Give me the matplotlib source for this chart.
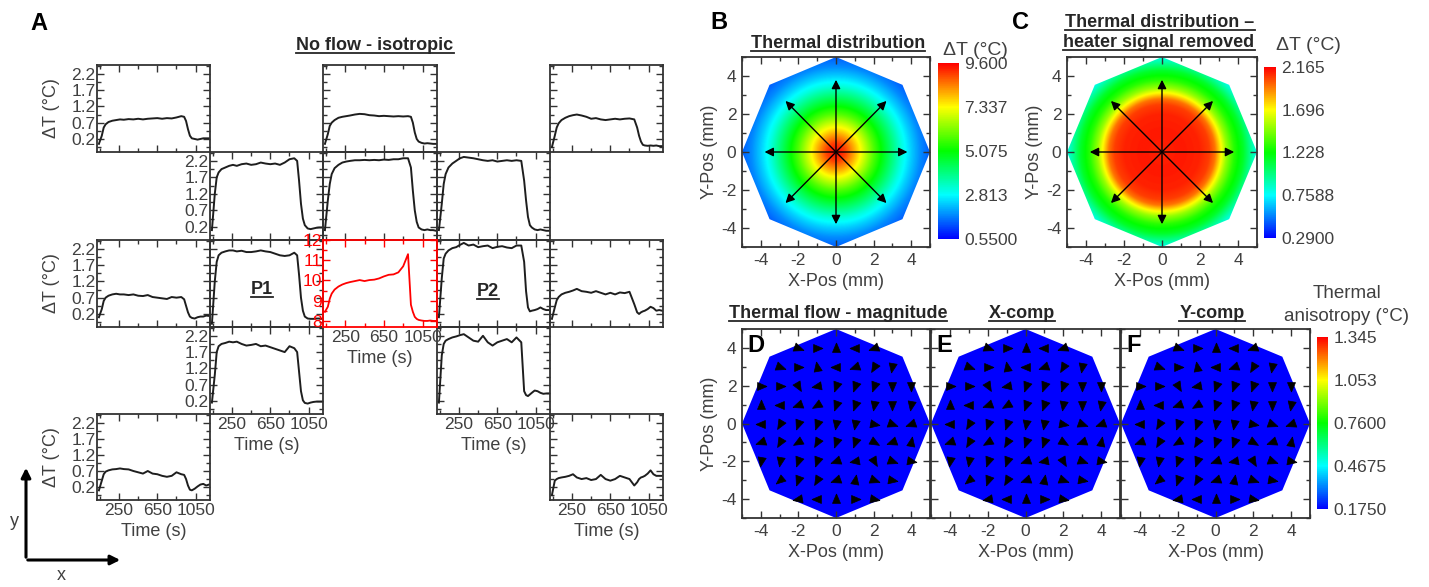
import numpy as np
import matplotlib.pyplot as plt
from matplotlib.colors import LinearSegmentedColormap, Normalize
from matplotlib.cm import ScalarMappable
from matplotlib.patches import Polygon, FancyArrowPatch
from matplotlib.ticker import FixedLocator, AutoMinorLocator
from matplotlib.lines import Line2D

plt.rcParams['font.family'] = ['Liberation Sans', 'DejaVu Sans']
plt.rcParams['axes.unicode_minus'] = False

GREY = '#404040'
DARK = '#262626'
W, H = 1429, 587

## ---- panel A: dT (deg C) at each sensor vs time (s)
time_s = [40, 70, 90, 110, 140, 180, 220, 260, 300, 350, 400, 450, 500, 550,
          600, 650, 700, 750, 800, 850, 900, 930, 950, 970, 990, 1010, 1040,
          1070, 1100, 1130, 1160, 1190]

dT_top_left = [0.05, 0.30, 0.55, 0.65, 0.72, 0.76, 0.78, 0.80, 0.79, 0.81, 0.80, 0.82, 0.80, 0.82, 0.83, 0.84,
               0.82, 0.84, 0.83, 0.86, 0.90, 0.88, 0.75, 0.50, 0.30, 0.22, 0.20, 0.18, 0.20, 0.22, 0.22, 0.22]
dT_top_mid = [0.05, 0.35, 0.60, 0.70, 0.78, 0.85, 0.88, 0.90, 0.92, 0.95, 0.97, 0.96, 0.93, 0.92, 0.90, 0.91,
              0.90, 0.89, 0.90, 0.89, 0.90, 0.88, 0.70, 0.40, 0.20, 0.12, 0.08, 0.06, 0.07, 0.06, 0.05, 0.05]
dT_top_right = [-0.05, 0.30, 0.55, 0.68, 0.78, 0.85, 0.90, 0.93, 0.95, 0.92, 0.88, 0.82, 0.84, 0.80, 0.78, 0.80,
                0.82, 0.80, 0.82, 0.83, 0.80, 0.55, 0.30, 0.12, 0.02, 0.00, -0.01, 0.00, -0.01, 0.00, -0.02, -0.02]
dT_in_tl = [0.10, 1.20, 1.70, 1.85, 1.95, 2.00, 2.05, 2.08, 2.05, 2.10, 2.12, 2.08, 2.10, 2.15, 2.12, 2.10,
            2.12, 2.08, 2.15, 2.25, 2.28, 2.20, 1.60, 0.90, 0.45, 0.25, 0.15, 0.13, 0.15, 0.17, 0.18, 0.18]
dT_in_tm = [0.10, 1.00, 1.50, 1.80, 1.98, 2.08, 2.15, 2.18, 2.20, 2.22, 2.22, 2.23, 2.22, 2.23, 2.22, 2.24,
            2.23, 2.25, 2.25, 2.28, 2.28, 2.00, 1.30, 0.70, 0.35, 0.18, 0.12, 0.10, 0.12, 0.10, 0.10, 0.08]
dT_in_tr = [0.10, 0.90, 1.50, 1.80, 2.00, 2.12, 2.20, 2.28, 2.32, 2.30, 2.28, 2.25, 2.22, 2.20, 2.22, 2.18,
            2.20, 2.22, 2.20, 2.22, 2.20, 1.60, 1.00, 0.50, 0.25, 0.18, 0.12, 0.10, 0.12, 0.10, 0.08, 0.08]
dT_mid_left = [0.10, 0.35, 0.60, 0.70, 0.76, 0.80, 0.82, 0.80, 0.80, 0.78, 0.80, 0.76, 0.75, 0.78, 0.72, 0.70,
               0.68, 0.66, 0.72, 0.70, 0.72, 0.65, 0.45, 0.25, 0.12, 0.08, 0.06, 0.10, 0.12, 0.12, 0.15, 0.14]
dT_p1 = [-0.10, 1.20, 1.80, 2.00, 2.08, 2.12, 2.15, 2.15, 2.12, 2.14, 2.10, 2.10, 2.12, 2.15, 2.12, 2.10,
         2.05, 2.00, 1.98, 2.00, 2.08, 2.00, 1.40, 0.70, 0.30, 0.12, 0.06, 0.05, 0.05, 0.06, 0.06, 0.05]
heater_T = [8.45, 8.70, 9.10, 9.35, 9.55, 9.70, 9.80, 9.87, 9.92, 9.97, 10.02, 9.97, 10.02, 10.04, 10.10, 10.20,
            10.28, 10.30, 10.40, 10.70, 11.30, 8.80, 8.45, 8.20, 8.10, 8.05, 8.02, 8.00, 8.00, 8.02, 8.00, 8.00]
dT_p2 = [0.10, 1.30, 1.90, 2.05, 2.15, 2.22, 2.25, 2.32, 2.38, 2.30, 2.33, 2.25, 2.28, 2.30, 2.22, 2.26,
         2.28, 2.24, 2.22, 2.30, 2.30, 1.80, 0.90, 0.40, 0.28, 0.30, 0.32, 0.35, 0.40, 0.35, 0.32, 0.32]
dT_mid_right = [0.05, 0.40, 0.62, 0.72, 0.80, 0.85, 0.88, 0.92, 0.97, 0.90, 0.88, 0.85, 0.90, 0.85, 0.80, 0.85,
                0.80, 0.86, 0.84, 0.88, 0.50, 0.25, 0.20, 0.25, 0.28, 0.30, 0.35, 0.42, 0.38, 0.30, 0.32, 0.30]
dT_in_bl = [0.15, 1.00, 1.70, 1.88, 1.95, 1.98, 2.02, 2.00, 2.02, 1.95, 1.90, 1.92, 1.95, 1.88, 1.90, 1.85,
            1.80, 1.75, 1.70, 1.88, 1.82, 1.70, 1.10, 0.50, 0.22, 0.14, 0.12, 0.15, 0.17, 0.18, 0.18, 0.18]
dT_in_br = [0.15, 1.60, 1.95, 2.05, 2.10, 2.15, 2.18, 2.22, 2.25, 2.15, 2.05, 2.02, 2.20, 2.00, 1.90, 2.00,
            2.05, 2.10, 2.00, 2.15, 2.00, 0.50, 0.38, 0.35, 0.40, 0.45, 0.52, 0.50, 0.45, 0.42, 0.43, 0.43]
dT_bot_left = [0.10, 0.40, 0.60, 0.68, 0.72, 0.75, 0.76, 0.78, 0.76, 0.75, 0.70, 0.66, 0.62, 0.70, 0.62, 0.60,
               0.55, 0.52, 0.55, 0.66, 0.60, 0.58, 0.45, 0.25, 0.12, 0.10, 0.15, 0.22, 0.28, 0.30, 0.25, 0.28]
dT_bot_right = [-0.05, 0.40, 0.45, 0.48, 0.50, 0.52, 0.55, 0.60, 0.50, 0.45, 0.48, 0.42, 0.45, 0.58, 0.45, 0.40,
                0.45, 0.55, 0.50, 0.45, 0.25, 0.35, 0.45, 0.50, 0.52, 0.55, 0.62, 0.72, 0.60, 0.55, 0.55, 0.55]

dT_ticks = [0.2, 0.7, 1.2, 1.7, 2.2]
heater_ticks = [8, 9, 10, 11, 12]
time_ticks = [250, 650, 1050]
time_minor = [50, 450, 850]

## ---- panels B, C: radial temperature profiles (mm, deg C)
b_radius = [0, 0.5, 1, 1.5, 2, 2.5, 3, 3.5, 4, 4.5, 5]
b_dT = [9.6, 9.0, 8.0, 6.9, 5.8, 4.9, 4.0, 3.1, 2.4, 1.8, 1.4]
c_radius = [0, 1, 2, 2.5, 2.8, 3.1, 3.4, 3.8, 4.3, 4.8, 5]
c_dT = [2.10, 2.12, 2.10, 2.05, 1.95, 1.72, 1.50, 1.30, 1.15, 0.90, 0.80]
b_cbar = [0.55, 2.813, 5.075, 7.337, 9.6]
c_cbar = [0.29, 0.7588, 1.228, 1.696, 2.165]
arrow_angles = [0, 45, 90, 135, 180, 225, 270, 315]
arrow_len = 3.8

## ---- panels D, E, F: anisotropy level and flow direction (deg) on a 1 mm grid
aniso_cbar = [0.175, 0.4675, 0.76, 1.053, 1.345]
flow_level = 0.175
grid_x = [-4, -3, -2, -1, 0, 1, 2, 3, 4]
grid_y = [4, 3, 2, 1, 0, -1, -2, -3, -4]
flow_angle = [
    [None, None, -20, 0, 90, 180, 200, None, None],
    [None, -20, 0, 100, 180, 200, 240, 260, None],
    [0, 0, -60, 190, 250, 250, 250, 270, 270],
    [90, 180, 200, 210, 250, 250, 260, 270, 260],
    [180, 240, 250, 250, 260, 260, -10, -20, 200],
    [200, 240, 210, 240, 250, 250, -30, 200, 80],
    [260, 260, 250, 250, 200, 190, -60, -20, -10],
    [None, 220, 250, 240, 200, 80, -20, -10, None],
    [None, None, 190, 180, 90, 0, -10, None, None],
]


def rect(x0, y0, x1, y1):
    return [x0 / W, 1 - y1 / H, (x1 - x0) / W, (y1 - y0) / H]


def fx(x):
    return x / W


def fy(y):
    return 1 - y / H


fig = plt.figure(figsize=(W / 100, H / 100), dpi=100)
underlined = []


def utext(x, y, s, size=13):
    t = fig.text(fx(x), fy(y), s, ha='center', va='baseline', fontsize=size,
                 fontweight='bold', color=DARK)
    underlined.append(t)
    return t


## ---------------- panel A
col_x = [97, 210, 323, 437, 550, 663]
row_y = [65, 152, 240, 327, 414, 500]

cells = [
    (0, 0, dT_top_left), (0, 2, dT_top_mid), (0, 4, dT_top_right),
    (1, 1, dT_in_tl), (1, 2, dT_in_tm), (1, 3, dT_in_tr),
    (2, 0, dT_mid_left), (2, 1, dT_p1), (2, 3, dT_p2), (2, 4, dT_mid_right),
    (3, 1, dT_in_bl), (3, 3, dT_in_br),
    (4, 0, dT_bot_left), (4, 4, dT_bot_right),
    (2, 2, heater_T),
]
ytl_cells = {(0, 0), (1, 1), (2, 0), (3, 1), (4, 0), (2, 2)}
xtl_cells = {(2, 2), (3, 1), (3, 3), (4, 0), (4, 4)}
ylab_cells = {(0, 0), (2, 0), (4, 0)}

for r, c, vals in cells:
    heater = (r, c) == (2, 2)
    ax = fig.add_axes(rect(col_x[c], row_y[r], col_x[c + 1], row_y[r + 1]))
    ax.set_facecolor('none')
    ax.set_zorder(3 if heater else 2)
    col = '#ff0000' if heater else '#1e1e1e'
    ax.plot(time_s, vals, color=col, lw=1.3 if heater else 1.4)
    ax.set_xlim(20, 1200)
    if heater:
        ax.set_ylim(7.7, 12.0)
        ax.yaxis.set_major_locator(FixedLocator(heater_ticks))
    else:
        ax.set_ylim(-0.2, 2.47)
        ax.yaxis.set_major_locator(FixedLocator(dT_ticks))
    ax.yaxis.set_minor_locator(AutoMinorLocator(2))
    ax.xaxis.set_major_locator(FixedLocator(time_ticks))
    ax.xaxis.set_minor_locator(FixedLocator(time_minor))
    spc = '#ff0000' if heater else '#333333'
    for s in ax.spines.values():
        s.set_color(spc)
        s.set_linewidth(1.3)
    ax.tick_params(which='both', direction='in', top=True, right=True, color=spc,
                   width=1, labelsize=12.5, pad=2)
    ax.tick_params(which='major', length=5)
    ax.tick_params(which='minor', length=3)
    ax.tick_params(axis='x', labelcolor=GREY, labelbottom=(r, c) in xtl_cells)
    ax.tick_params(axis='y', labelcolor='#ff0000' if heater else GREY,
                   labelleft=(r, c) in ytl_cells, pad=1)
    if (r, c) in xtl_cells:
        ax.set_xlabel('Time (s)', fontsize=13, color=GREY, labelpad=4)
    if (r, c) in ylab_cells:
        ax.set_ylabel('ΔT (°C)', fontsize=13, color=GREY, labelpad=8)
    if (r, c) == (2, 1):
        t = ax.text(0.46, 0.38, 'P1', transform=ax.transAxes, ha='center', va='baseline',
                    fontsize=13, fontweight='bold', color=DARK)
        underlined.append(t)
    if (r, c) == (2, 3):
        t = ax.text(0.45, 0.36, 'P2', transform=ax.transAxes, ha='center', va='baseline',
                    fontsize=13, fontweight='bold', color=DARK)
        underlined.append(t)

fig.text(fx(30), fy(30), 'A', fontsize=17, fontweight='bold', color='k', va='baseline')
utext(375, 50, 'No flow - isotropic')

# orientation arrows
fig.add_artist(FancyArrowPatch((fx(26), fy(560)), (fx(26), fy(465)), transform=fig.transFigure,
                               arrowstyle='-|>', mutation_scale=14, lw=2.2, color='k'))
fig.add_artist(FancyArrowPatch((fx(25), fy(560)), (fx(123), fy(560)), transform=fig.transFigure,
                               arrowstyle='-|>', mutation_scale=14, lw=2.2, color='k'))
fig.text(fx(14), fy(522), 'y', fontsize=13, color=GREY, ha='center', va='center')
fig.text(fx(61), fy(575), 'x', fontsize=13, color=GREY, ha='center', va='center')

## ---------------- maps
cmap = LinearSegmentedColormap.from_list(
    'rainbow5', ['#0000ff', '#00ffff', '#00ff00', '#ffff00', '#ff0000'])
ang = np.deg2rad(np.arange(8) * 45)
octagon = np.column_stack([5 * np.cos(ang), 5 * np.sin(ang)])
mm_ticks = [-4, -2, 0, 2, 4]
head = np.array([[1.0, 0.0], [-0.7, 0.72], [-0.7, -0.72], [1.0, 0.0]])


def head_marker(deg):
    a = np.deg2rad(deg)
    rot = np.array([[np.cos(a), -np.sin(a)], [np.sin(a), np.cos(a)]])
    return head @ rot.T


def map_axes(box, ylab=True):
    ax = fig.add_axes(rect(*box))
    ax.set_xlim(-5, 5)
    ax.set_ylim(-5, 5)
    for axis in (ax.xaxis, ax.yaxis):
        axis.set_major_locator(FixedLocator(mm_ticks))
        axis.set_minor_locator(AutoMinorLocator(2))
    ax.tick_params(which='both', direction='in', top=True, right=True, color='#333333',
                   labelcolor=GREY, labelsize=12.5, width=1, pad=4)
    ax.tick_params(which='major', length=5)
    ax.tick_params(which='minor', length=3)
    for s in ax.spines.values():
        s.set_color('#333333')
        s.set_linewidth(1.3)
    ax.set_xlabel('X-Pos (mm)', fontsize=13, color=GREY, labelpad=4)
    if ylab:
        ax.set_ylabel('Y-Pos (mm)', fontsize=13, color=GREY, labelpad=2)
    else:
        ax.tick_params(labelleft=False)
    return ax


def add_cbar(mappable, box, ticks):
    cax = fig.add_axes(rect(*box))
    cb = fig.colorbar(mappable, cax=cax)
    cb.set_ticks(ticks)
    cb.set_ticklabels([f'{v:#.4g}' for v in ticks])
    cb.outline.set_visible(False)
    cax.tick_params(length=0, labelsize=12.5, labelcolor=GREY, pad=4)
    return cb


xg = np.linspace(-5, 5, 401)
XX, YY = np.meshgrid(xg, xg)
RR = np.hypot(XX, YY)


def thermal_map(box, radius, prof, lims, cbox, ylab):
    ax = map_axes(box, ylab)
    field = np.interp(RR, radius, prof)
    im = ax.imshow(field, extent=(-5, 5, -5, 5), origin='lower', cmap=cmap,
                   vmin=lims[0], vmax=lims[-1], interpolation='bilinear', aspect='auto')
    im.set_clip_path(Polygon(octagon, transform=ax.transData))
    for a in arrow_angles:
        tip = (arrow_len * np.cos(np.deg2rad(a)), arrow_len * np.sin(np.deg2rad(a)))
        ax.annotate('', xy=tip, xytext=(0, 0),
                    arrowprops=dict(arrowstyle='-|>', color='k', lw=1.0,
                                    mutation_scale=13, shrinkA=0, shrinkB=0))
    add_cbar(im, cbox, lims)
    return ax


thermal_map((742, 57, 930, 247), b_radius, b_dT, b_cbar, (938, 63, 959, 239), True)
thermal_map((1067, 57, 1257, 247), c_radius, c_dT, c_cbar, (1264, 67, 1276, 238), True)

fig.text(fx(710), fy(29), 'B', fontsize=17, fontweight='bold', color='k', va='baseline')
fig.text(fx(1012), fy(29), 'C', fontsize=17, fontweight='bold', color='k', va='baseline')
utext(838, 48, 'Thermal distribution')
utext(1160, 27, 'Thermal distribution \u2013')
utext(1159, 47, 'heater signal removed')
fig.text(fx(975), fy(55), 'ΔT (°C)', fontsize=14, color=GREY, ha='center', va='baseline')
fig.text(fx(1308), fy(50), 'ΔT (°C)', fontsize=14, color=GREY, ha='center', va='baseline')

aniso_norm = Normalize(aniso_cbar[0], aniso_cbar[-1])
aniso_sm = ScalarMappable(norm=aniso_norm, cmap=cmap)
flow_boxes = [(742, 329, 930, 518), (931, 329, 1120, 518), (1121, 329, 1310, 518)]
for i, (box, letter) in enumerate(zip(flow_boxes, 'DEF')):
    ax = map_axes(box, ylab=(i == 0))
    ax.add_patch(Polygon(octagon, closed=True, facecolor=aniso_sm.to_rgba(flow_level),
                         edgecolor='none', zorder=1))
    for j, yy in enumerate(grid_y):
        for k, xx in enumerate(grid_x):
            a = flow_angle[j][k]
            if a is None:
                continue
            ax.plot(xx, yy, ls='none', marker=head_marker(a), ms=8, color='k',
                    mec='k', mew=0.5, zorder=3)
    ax.text(0.03, 0.975, letter, transform=ax.transAxes, ha='left', va='top',
            fontsize=17, fontweight='bold', color='k', zorder=4)
add_cbar(aniso_sm, (1317, 337, 1328, 509), aniso_cbar)

utext(838, 318, 'Thermal flow - magnitude')
utext(1022, 318, 'X-comp')
utext(1212, 318, 'Y-comp')
fig.text(fx(1347), fy(298), 'Thermal', fontsize=13.5, color=GREY, ha='center', va='baseline')
fig.text(fx(1347), fy(321), 'anisotropy (°C)', fontsize=13.5, color=GREY, ha='center', va='baseline')

## underline titles
fig.canvas.draw()
rend = fig.canvas.get_renderer()
inv = fig.transFigure.inverted()
for t in underlined:
    bb = t.get_window_extent(rend)
    x0, _ = inv.transform((bb.x0, 0))
    x1, _ = inv.transform((bb.x1, 0))
    _, yb = inv.transform(t.get_transform().transform(t.get_position()))
    yl = yb - 3.0 / H
    fig.add_artist(Line2D([x0, x1], [yl, yl], color=DARK, lw=1.3, transform=fig.transFigure))

fig.savefig('out.png', dpi=100)
